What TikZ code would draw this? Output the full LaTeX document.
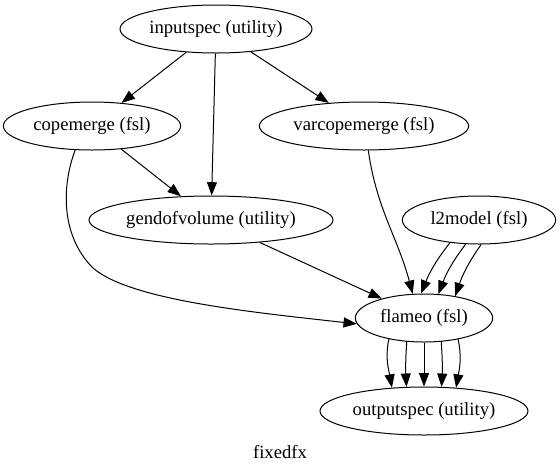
\documentclass[tikz,border=0pt]{standalone}
\usepackage{fontspec}
\setmainfont{Liberation Serif}
\usetikzlibrary{positioning,arrows.meta,shapes.geometric}

\tikzset{
	proc/.style={draw,ellipse,line width=0.75pt,inner sep=0pt,minimum height=36pt},
	link/.style={line width=0.75pt,-{Triangle[length=10pt,width=7.5pt]}}
}

\begin{document}
\begin{tikzpicture}[x=0.75pt,y=-0.75pt,font=\fontsize{14}{16}\selectfont]
		\useasboundingbox (0,0) rectangle (560,472);
		\node[proc,minimum width=144pt] (inputspec) at (216,29) {inputspec (utility)};
		\node[proc,minimum width=133pt] (copemerge) at (92,126) {copemerge (fsl)};
		\node[proc,minimum width=157pt] (varcopemerge) at (364,126) {varcopemerge (fsl)};
		\node[proc,minimum width=183pt] (gendofvolume) at (211,220) {gendofvolume (utility)};
		\node[proc,minimum width=115pt] (l2model) at (479,220) {l2model (fsl)};
		\node[proc,minimum width=103pt] (flameo) at (424,318) {flameo (fsl)};
		\node[proc,minimum width=156pt] (outputspec) at (424,411) {outputspec (utility)};
		\node (fixedfx) at (280,452) {fixedfx};
		
		\draw[link] (inputspec) -- (copemerge);
		\draw[link] (inputspec) -- (gendofvolume);
		\draw[link] (inputspec) -- (varcopemerge);
		\draw[link] (copemerge) -- (gendofvolume);
		\draw[link] (gendofvolume) -- (flameo);
		
		\draw[link] (copemerge.235) .. controls (62,185) and (60,235) .. (93,268) .. controls (130,300) and (250,312) .. (flameo.185);
		\draw[link] (varcopemerge.280) to[out=-82,in=105] (flameo.115);
		
		\draw[link] (l2model.218) to[out=232,in=68] (flameo.97);
		\draw[link] (l2model.241) to[out=233,in=69] (flameo.59);
		\draw[link] (l2model.275) to[out=235,in=71] (flameo.35);
		
		\draw[link] (flameo.211) to[out=258,in=100] (outputspec.144);
		\draw[link] (flameo.234) to[out=266,in=93] (outputspec.126);
		\draw[link] (flameo.270) -- (outputspec.90);
		\draw[link] (flameo.306) to[out=274,in=87] (outputspec.54);
		\draw[link] (flameo.328) to[out=282,in=80] (outputspec.36);
\end{tikzpicture}
\end{document}
